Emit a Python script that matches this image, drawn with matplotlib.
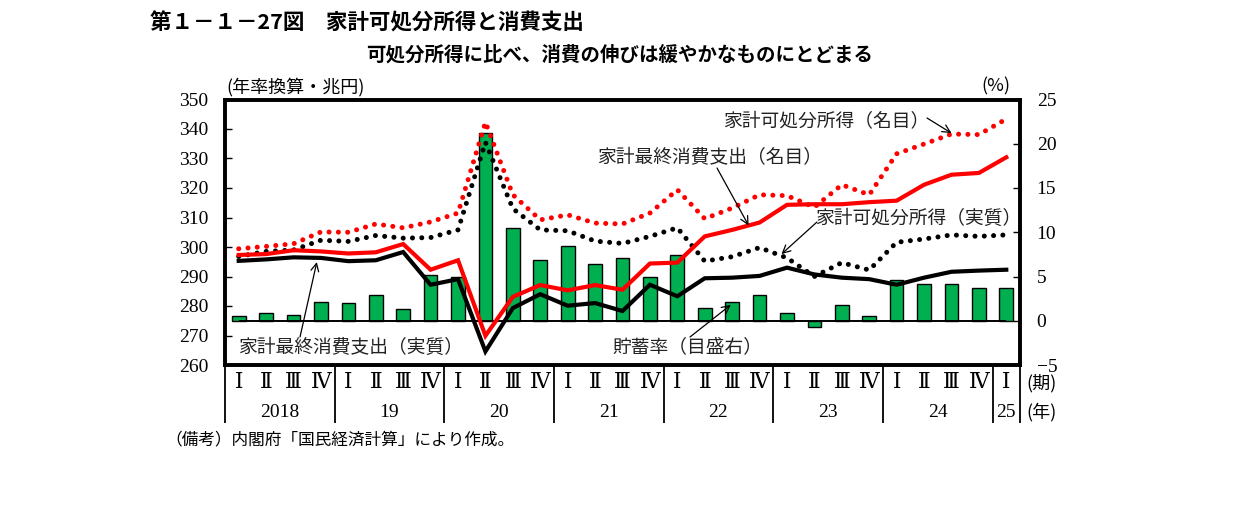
import matplotlib
matplotlib.use('Agg')
import matplotlib.pyplot as plt
from matplotlib.transforms import blended_transform_factory
import numpy as np

plt.rcParams['font.family'] = ['Noto Sans CJK JP', 'DejaVu Sans']

# quarters 2018 I .. 2025 I
quarters = ['Ⅰ', 'Ⅱ', 'Ⅲ', 'Ⅳ'] * 7 + ['Ⅰ']
years = ['2018', '19', '20', '21', '22', '23', '24', '25']

# left axis (trillion yen, annualised)
cons_nominal = [297.3, 297.6, 298.9, 298.5, 297.8, 298.2, 301.0, 292.3, 295.5, 269.9,
                283.1, 287.1, 285.3, 287.1, 285.5, 294.4, 294.7, 303.6, 305.8, 308.3,
                314.3, 314.5, 314.5, 315.2, 315.7, 321.1, 324.5, 325.1, 330.4]
cons_real = [295.3, 295.8, 296.5, 296.3, 295.2, 295.5, 298.3, 287.2, 289.1, 264.6,
             279.3, 284.0, 280.1, 281.0, 278.3, 287.2, 283.3, 289.4, 289.6, 290.2,
             293.0, 290.7, 289.6, 289.1, 287.2, 289.6, 291.6, 292.0, 292.3]
disp_nominal = [299.4, 300.2, 301.1, 305.1, 305.0, 307.8, 306.5, 308.5, 311.5, 342.3,
                317.7, 309.2, 310.9, 308.1, 307.8, 311.5, 319.4, 309.6, 313.2, 317.7,
                317.4, 313.5, 321.1, 317.7, 331.6, 334.9, 338.3, 338.1, 343.4]
disp_real = [296.8, 298.5, 299.0, 302.3, 301.9, 303.9, 303.0, 303.2, 305.8, 335.5,
             313.0, 305.8, 305.5, 302.0, 301.2, 303.6, 306.5, 295.2, 296.7, 299.8,
             296.3, 290.0, 294.7, 292.2, 301.6, 302.7, 304.1, 303.6, 304.1]
# right axis (%)
saving_rate = [0.5, 0.85, 0.7, 2.1, 2.0, 2.9, 1.3, 5.15, 5.0, 21.2,
               10.5, 6.85, 8.4, 6.4, 7.1, 5.0, 7.4, 1.4, 2.1, 2.9,
               0.85, -0.75, 1.75, 0.55, 4.6, 4.1, 4.1, 3.7, 3.7]

W, H = 1241, 509
fig = plt.figure(figsize=(W / 100, H / 100), dpi=100)
ax = fig.add_axes([225 / W, 1 - 365 / H, 795 / W, 265.5 / H])
ax2 = ax.twinx()
ax.set_zorder(ax2.get_zorder() + 1)
ax.patch.set_visible(False)

x = np.arange(len(quarters))
num_font = ['Liberation Serif', 'DejaVu Serif', 'Noto Sans CJK JP']

ax2.bar(x, saving_rate, width=0.5, color='#00B050', edgecolor='black', linewidth=1.0)
ax2.hlines(0, x[0], x[-1], color='black', lw=1.4)

dot = (0, (0.01, 1.85))
ax.plot(x, disp_nominal, color='#FF0000', lw=3.6, ls=dot, dash_capstyle='round')
ax.plot(x, disp_real, color='black', lw=3.6, ls=dot, dash_capstyle='round')
ax.plot(x, cons_nominal, color='#FF0000', lw=3.0, solid_joinstyle='miter')
ax.plot(x, cons_real, color='black', lw=3.0, solid_joinstyle='miter')

ax.set_xlim(-0.5, len(quarters) - 0.5)
ax.set_ylim(260, 350)
ax.set_yticks(np.arange(260, 351, 10))
ax2.set_ylim(-5, 25)
ax2.set_yticks(np.arange(-5, 26, 5))
ax.set_xticks([])
for a in (ax, ax2):
    for s in a.spines.values():
        s.set_linewidth(2.6)
ax.tick_params(axis='y', direction='in', length=5, width=1, pad=12)
ax2.tick_params(axis='y', direction='in', length=5, width=1, pad=12)
for lab in ax.get_yticklabels() + ax2.get_yticklabels():
    lab.set_family(num_font)
    lab.set_fontsize(14)

# category table under the axis
tr = blended_transform_factory(ax.transData, ax.transAxes)
for i, q in enumerate(quarters):
    ax.text(i, -0.068, q, transform=tr, ha='center', va='center',
            fontsize=15.5, family=num_font)
for k, yl in enumerate(years):
    start = 4 * k
    end = min(start + 4, len(quarters))
    ax.text((start + end - 1) / 2, -0.178, yl, transform=tr, ha='center', va='center',
            fontsize=14, family=num_font)
seps = list(np.arange(-0.5, len(quarters), 4)) + [len(quarters) - 0.5]
ax.vlines(seps, -0.22, 0, transform=tr, color='black', lw=1.3, clip_on=False)

def fp(px, py):
    return (px / W, 1 - py / H)

fig.text(*fp(1026, 383), '(期)', ha='left', va='center', fontsize=13)
fig.text(*fp(1026, 412), '(年)', ha='left', va='center', fontsize=13)

# titles and units
fig.text(*fp(150, 23), '第１－１－27図　家計可処分所得と消費支出', ha='left', va='center',
         fontsize=15.5, fontweight='bold')
fig.text(*fp(366, 55), '可処分所得に比べ、消費の伸びは緩やかなものにとどまる', ha='left',
         va='center', fontsize=14, fontweight='bold')
fig.text(*fp(226, 87), '(年率換算・兆円)', ha='left', va='center', fontsize=13)
fig.text(*fp(996, 86), '(%)', ha='center', va='center', fontsize=13)
fig.text(*fp(165, 440), '（備考）内閣府「国民経済計算」により作成。', ha='left', va='center',
         fontsize=12)

# series labels with arrows
labels = [
    ('家計可処分所得（名目）', (723, 121), (927, 118), (26.0, 338.6), ax),
    ('家計最終消費支出（名目）', (597, 157), (717, 168), (18.6, 307.3), ax),
    ('家計可処分所得（実質）', (815, 218), (817, 222), (19.8, 297.6), ax),
    ('家計最終消費支出（実質）', (238, 347), (300, 337), (2.85, 294.9), ax),
    ('貯蓄率（目盛右）', (612, 347), (690, 337), (17.95, 1.8), ax2),
]
for txt, tpos, tail, tip, a in labels:
    fig.text(*fp(*tpos), txt, ha='left', va='center', fontsize=13.5, color='#222222')
    a.annotate('', xy=tip, xycoords='data', xytext=fp(*tail), textcoords='figure fraction',
               arrowprops=dict(arrowstyle='->', lw=0.9, color='black',
                               shrinkA=0, shrinkB=0, mutation_scale=14))

fig.savefig('out.png', dpi=100)
